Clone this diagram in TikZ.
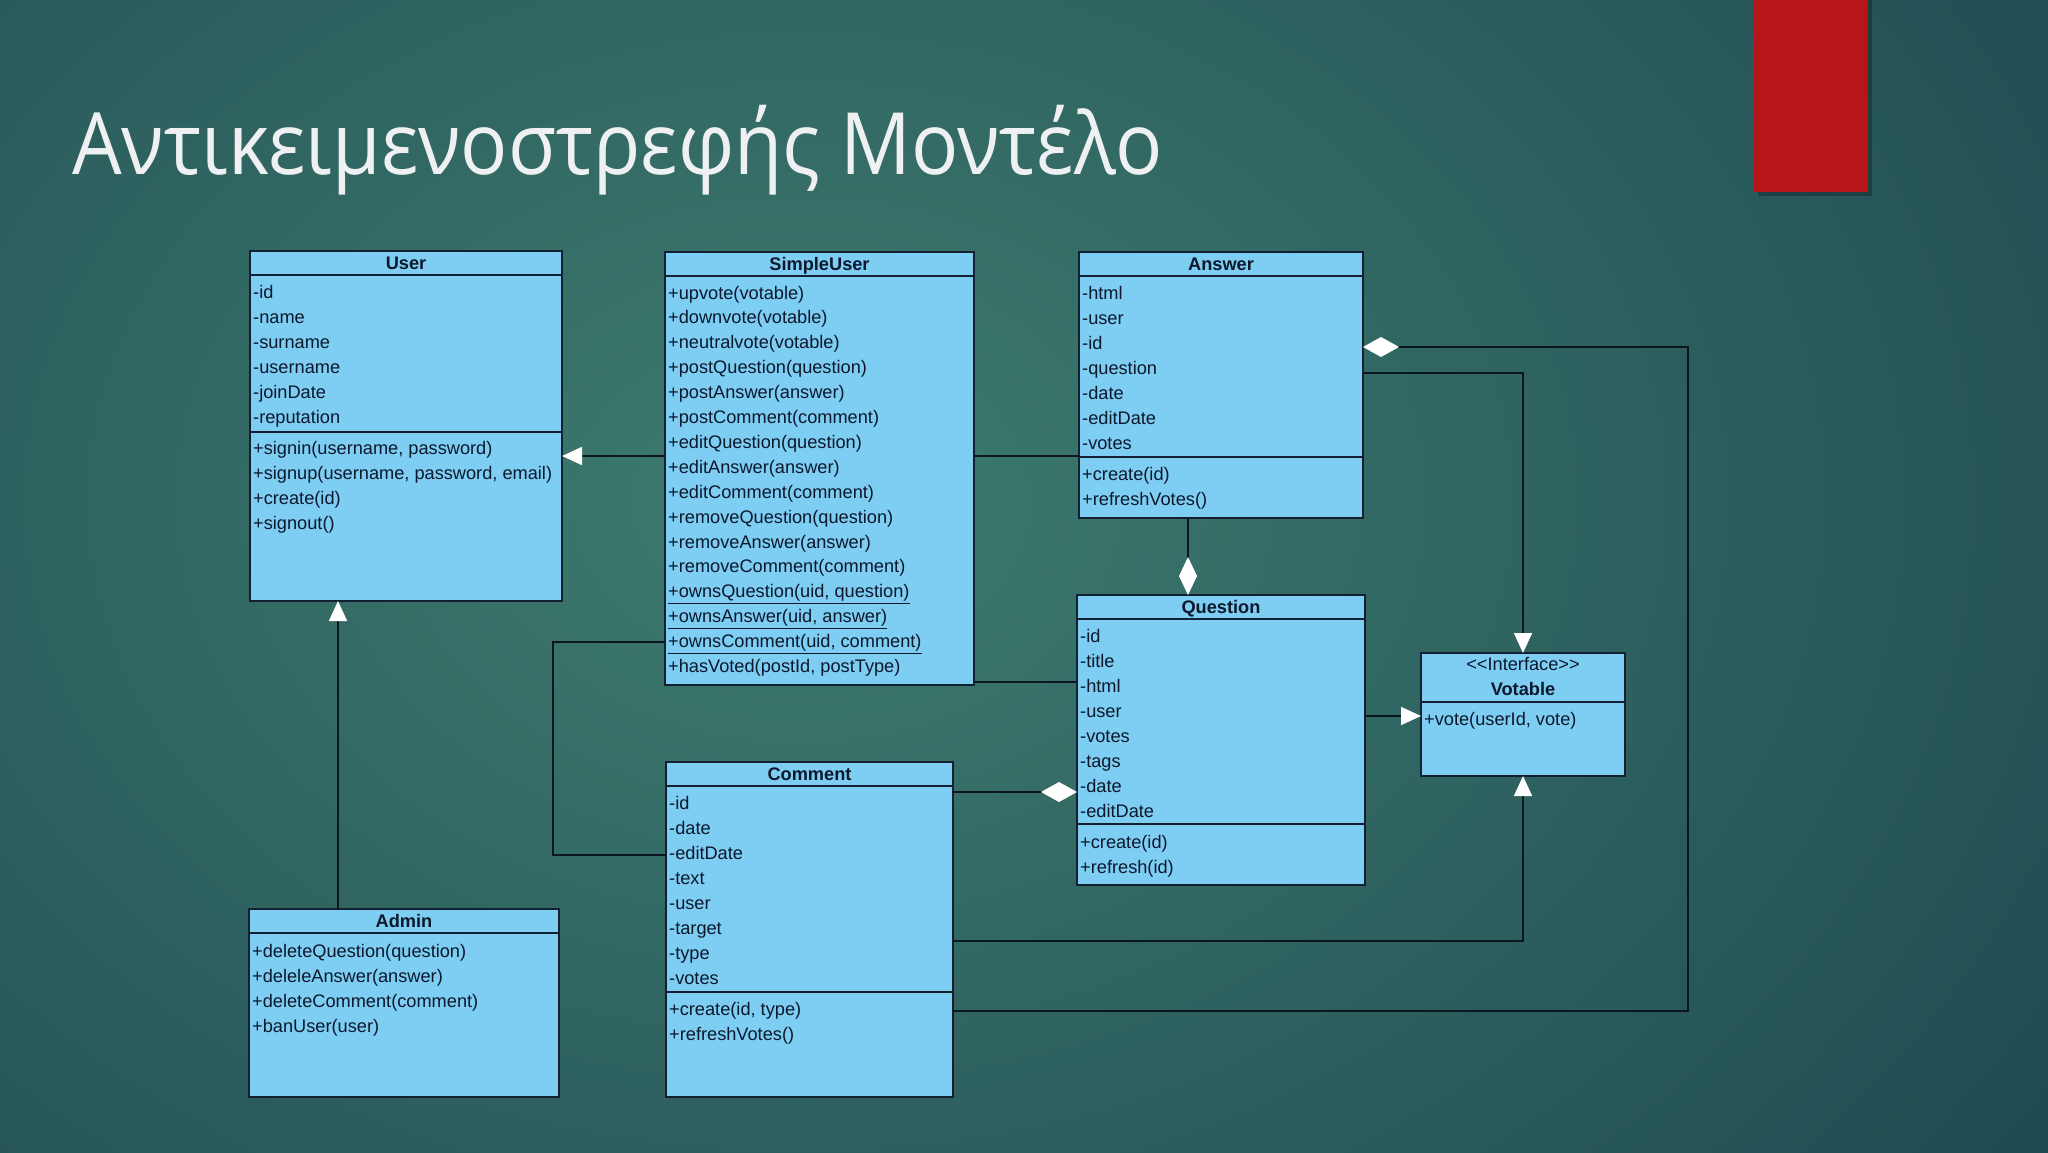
\documentclass[tikz,border=0pt]{standalone}
\usepackage{fontspec}
\setmainfont{Liberation Sans}
\newfontfamily\titlefont{Open Sans}[FakeStretch=0.912]
\usetikzlibrary{arrows.meta}
\definecolor{bgin}{RGB}{62,124,110}
\definecolor{bgout}{RGB}{22,58,74}
\definecolor{boxfill}{RGB}{126,205,242}
\definecolor{boxline}{RGB}{18,32,50}
\definecolor{txtcol}{RGB}{12,24,44}
\definecolor{conn}{RGB}{12,22,32}
\definecolor{titlecol}{RGB}{238,240,242}
\definecolor{redbar}{RGB}{182,22,26}
\begin{document}
\begin{tikzpicture}[x=1pt,y=-1pt,
  clsbox/.style={draw=boxline,fill=boxfill,line width=1.6pt,inner sep=0pt,outer sep=0pt,anchor=north west},
  sepline/.style={draw=boxline,line width=1.6pt},
  rowtxt/.style={anchor=base west,inner sep=0pt,text=txtcol,font=\fontsize{18.2}{20}\selectfont},
  hdrtxt/.style={anchor=base,inner sep=0pt,text=txtcol,font=\bfseries\fontsize{18.2}{20}\selectfont},
  conline/.style={draw=conn,line width=1.6pt},
  gentip/.style={-{Triangle[length=20pt,width=18pt,fill=white,color=white]}},
  aggtip/.style={-{Diamond[length=36pt,width=20pt,fill=white,color=white]}},
  aggtipv/.style={-{Diamond[length=38pt,width=18pt,fill=white,color=white]}}
]
\useasboundingbox (0,0) rectangle (2048,1152);
% background
\begin{scope}
\clip (0,0) rectangle (2048,1152);
\shade[inner color=bgin,outer color=bgout] (-1200,-1000) rectangle (2800,2000);
\end{scope}
% red bar
\fill[black,opacity=0.25] (1758,0) rectangle (1872,196);
\fill[redbar] (1754,0) rectangle (1868,192);
% title
\node[anchor=base west,inner sep=0pt,text=titlecol,font=\titlefont\fontsize{86}{90}\selectfont] (title) at (72,174) {Αντικειμενοστρεφής Μοντέλο};

% ---------- User ----------
\node[clsbox,minimum width=312pt,minimum height=350pt] (user) at (250,251) {};
\draw[sepline] (250,275) -- (562,275);
\draw[sepline] (250,432) -- (562,432);
\node[hdrtxt] (userh) at (406,269.5) {User};
\foreach \t [count=\i from 0] in {-id,-name,-surname,-username,-joinDate,-reputation}
  \node[rowtxt] (ua\i) at (253,298+25*\i) {\t};
\foreach \t [count=\i from 0] in {{+signin(username, password)},{+signup(username, password, email)},{+create(id)},{+signout()}}
  \node[rowtxt] (um\i) at (253,454+25*\i) {\t};

% ---------- SimpleUser ----------
\node[clsbox,minimum width=309pt,minimum height=433pt] (su) at (665,252) {};
\draw[sepline] (665,276) -- (974,276);
\node[hdrtxt] (suh) at (819.5,270.5) {SimpleUser};
\foreach \t [count=\i from 0] in {+upvote(votable),+downvote(votable),+neutralvote(votable),+postQuestion(question),+postAnswer(answer),+postComment(comment),+editQuestion(question),+editAnswer(answer),+editComment(comment),+removeQuestion(question),+removeAnswer(answer),+removeComment(comment),{\underline{+ownsQuestion(uid, question)}},{\underline{+ownsAnswer(uid, answer)}},{\underline{+ownsComment(uid, comment)}},{+hasVoted(postId, postType)}}
  \node[rowtxt] (sm\i) at (668,299+24.9*\i) {\t};

% ---------- Answer ----------
\node[clsbox,minimum width=284pt,minimum height=266pt] (answer) at (1079,252) {};
\draw[sepline] (1079,276) -- (1363,276);
\draw[sepline] (1079,457) -- (1363,457);
\node[hdrtxt] (ansh) at (1221,270.5) {Answer};
\foreach \t [count=\i from 0] in {-html,-user,-id,-question,-date,-editDate,-votes}
  \node[rowtxt] (aa\i) at (1082,299+25*\i) {\t};
\foreach \t [count=\i from 0] in {+create(id),+refreshVotes()}
  \node[rowtxt] (am\i) at (1082,480+25*\i) {\t};

% ---------- Question ----------
\node[clsbox,minimum width=288pt,minimum height=290pt] (question) at (1077,595) {};
\draw[sepline] (1077,619) -- (1365,619);
\draw[sepline] (1077,824) -- (1365,824);
\node[hdrtxt] (qh) at (1221,613.5) {Question};
\foreach \t [count=\i from 0] in {-id,-title,-html,-user,-votes,-tags,-date,-editDate}
  \node[rowtxt] (qa\i) at (1080,642+25*\i) {\t};
\foreach \t [count=\i from 0] in {+create(id),+refresh(id)}
  \node[rowtxt] (qm\i) at (1080,848+25*\i) {\t};

% ---------- Votable ----------
\node[clsbox,minimum width=204pt,minimum height=123pt] (votable) at (1421,653) {};
\draw[sepline] (1421,702) -- (1625,702);
\node[anchor=base,inner sep=0pt,text=txtcol,font=\fontsize{18.2}{20}\selectfont] (vst) at (1523,670) {\mbox{<}\mbox{<}Interface\mbox{>}\mbox{>}};
\node[hdrtxt] (vh) at (1523,695.5) {Votable};
\node[rowtxt] (vm0) at (1424,725) {+vote(userId, vote)};

% ---------- Comment ----------
\node[clsbox,minimum width=287pt,minimum height=335pt] (comment) at (666,762) {};
\draw[sepline] (666,786) -- (953,786);
\draw[sepline] (666,992) -- (953,992);
\node[hdrtxt] (ch) at (809.5,780.5) {Comment};
\foreach \t [count=\i from 0] in {-id,-date,-editDate,-text,-user,-target,-type,-votes}
  \node[rowtxt] (ca\i) at (669,809+25*\i) {\t};
\foreach \t [count=\i from 0] in {{+create(id, type)},+refreshVotes()}
  \node[rowtxt] (cm\i) at (669,1015+25*\i) {\t};

% ---------- Admin ----------
\node[clsbox,minimum width=310pt,minimum height=188pt] (admin) at (249,909) {};
\draw[sepline] (249,933) -- (559,933);
\node[hdrtxt] (adh) at (404,927.5) {Admin};
\foreach \t [count=\i from 0] in {+deleteQuestion(question),+deleleAnswer(answer),+deleteComment(comment),+banUser(user)}
  \node[rowtxt] (adm\i) at (252,957+25*\i) {\t};

% ---------- connector levels ----------
\coordinate (yGen) at (0,456);
\coordinate (yQh) at (0,682);
\coordinate (yOwn) at (0,642);
\coordinate (yEd) at (0,855);
\coordinate (xEl) at (553,0);
\coordinate (xAd) at (338,0);
\coordinate (xAQ) at (1188,0);
\coordinate (yCQ) at (0,792);
\coordinate (yAV) at (0,373);
\coordinate (yQV) at (0,716);
\coordinate (yCV) at (0,941);
\coordinate (yCA) at (0,1011);
\coordinate (yAD) at (0,347);
\coordinate (xR) at (1688,0);

% ---------- connectors ----------
\draw[conline,gentip] (su.west |- yGen) -- (user.east |- yGen);
\draw[conline,gentip] (admin.north -| xAd) -- (user.south -| xAd);
\draw[conline] (su.east |- yGen) -- (answer.west |- yGen);
\draw[conline] (su.east |- yQh) -- (question.west |- yQh);
\draw[conline] (su.west |- yOwn) -- (xEl |- yOwn) -- (xEl |- yEd) -- (comment.west |- yEd);
\draw[conline,aggtipv] (answer.south -| xAQ) -- (question.north -| xAQ);
\draw[conline,aggtip] (comment.east |- yCQ) -- (question.west |- yCQ);
\draw[conline,gentip] (answer.east |- yAV) -| (votable.north);
\draw[conline,gentip] (question.east |- yQV) -- (votable.west |- yQV);
\draw[conline,gentip] (comment.east |- yCV) -| (votable.south);
\draw[conline,aggtip] (comment.east |- yCA) -- (xR |- yCA) -- (xR |- yAD) -- (answer.east |- yAD);
\end{tikzpicture}
\end{document}
